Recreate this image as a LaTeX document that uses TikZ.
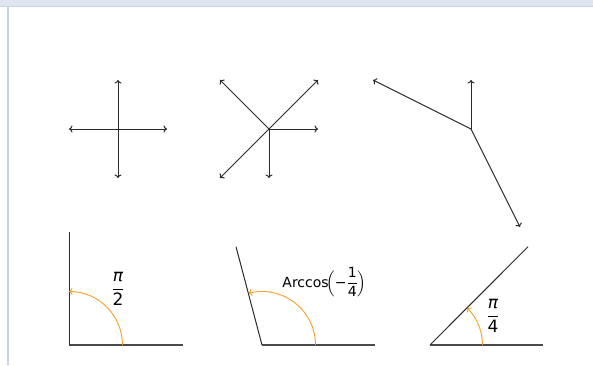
\documentclass[tikz,border=0pt]{standalone}
\usepackage{amsmath}
\usepackage{fontspec}
\setmainfont{DejaVu Sans}
\usetikzlibrary{arrows.meta}
\definecolor{frameband}{HTML}{DFE6F2}
\definecolor{frameline}{HTML}{C8D2E5}
\definecolor{ink}{HTML}{2A2A2A}
\definecolor{arcorange}{HTML}{F5A027}
\begin{document}
\begin{tikzpicture}[x=1pt,y=1pt,
  tip/.style={-{To[length=3.5pt,width=7pt]}},
  vec/.style={draw=ink,line width=1pt,tip},
  side/.style={draw=ink,line width=1pt},
  base/.style={draw=ink!85,line width=1.2pt},
  anglearc/.style={draw=arcorange,line width=0.9pt,tip},
  lbl/.style={inner sep=0pt,font=\fontsize{17}{19}\selectfont},
  lblsmall/.style={inner sep=0pt,font=\fontsize{14}{16}\selectfont}]
\useasboundingbox (0,0) rectangle (593,365);
% frame
\fill[frameband] (0,358) rectangle (593,365);
\fill[frameline] (0,357.5) rectangle (593,359);
\fill[frameline] (7,0) rectangle (9.3,358);
% panel 1: cross
\coordinate (o1) at (118,236);
\coordinate (o1r) at (167,236);
\coordinate (o1l) at (69,236);
\coordinate (o1u) at (118,285);
\coordinate (o1d) at (118,187);
\draw[vec] (o1) -- (o1r);
\draw[vec] (o1) -- (o1l);
\draw[vec] (o1) -- (o1u);
\draw[vec] (o1) -- (o1d);
% panel 2
\coordinate (o2) at (269,236);
\coordinate (o2r) at (318,236);
\coordinate (o2d) at (269,187);
\coordinate (o2ul) at (220,285);
\coordinate (o2ur) at (318,285);
\coordinate (o2dl) at (220,187);
\draw[vec] (o2) -- (o2r);
\draw[vec] (o2) -- (o2d);
\draw[vec] (o2) -- (o2ul);
\draw[vec] (o2) -- (o2ur);
\draw[vec] (o2) -- (o2dl);
% panel 3
\coordinate (o3) at (471,236);
\coordinate (o3u) at (471,285);
\coordinate (o3ul) at (373,285);
\coordinate (o3dr) at (520,138);
\draw[vec] (o3) -- (o3u);
\draw[vec] (o3) -- (o3ul);
\draw[vec] (o3) -- (o3dr);
% angle 1
\coordinate (a1) at (69,20);
\coordinate (a1h) at (183,20);
\coordinate (a1v) at (69,133);
\coordinate (a1s) at (122.5,20);
\draw[base] (a1) -- (a1h);
\draw[side] (a1) -- (a1v);
\draw[anglearc] (a1s) arc[start angle=0,end angle=90,radius=53.5];
\node[lbl] (l1) at (118,76) {$\dfrac{\text{\itshape π}}{\text{2}}$};
% angle 2
\coordinate (a2) at (262,20);
\coordinate (a2h) at (375,20);
\coordinate (a2v) at (236,118.3);
\coordinate (a2s) at (315.5,20);
\draw[base] (a2) -- (a2h);
\draw[side] (a2) -- (a2v);
\draw[anglearc] (a2s) arc[start angle=0,end angle=104.48,radius=53.5];
\node[lblsmall] (l2) at (324.5,83) {\text{Arccos}$\!\Bigl(\text{−}\dfrac{\text{1}}{\text{4}}\Bigr)$};
% angle 3
\coordinate (a3) at (430,20);
\coordinate (a3h) at (543,20);
\coordinate (a3v) at (528,118.3);
\coordinate (a3s) at (482.5,20);
\draw[base] (a3) -- (a3h);
\draw[side] (a3) -- (a3v);
\draw[anglearc] (a3s) arc[start angle=0,end angle=45,radius=52.5];
\node[lbl] (l3) at (493,49) {$\dfrac{\text{\itshape π}}{\text{4}}$};
\end{tikzpicture}
\end{document}
